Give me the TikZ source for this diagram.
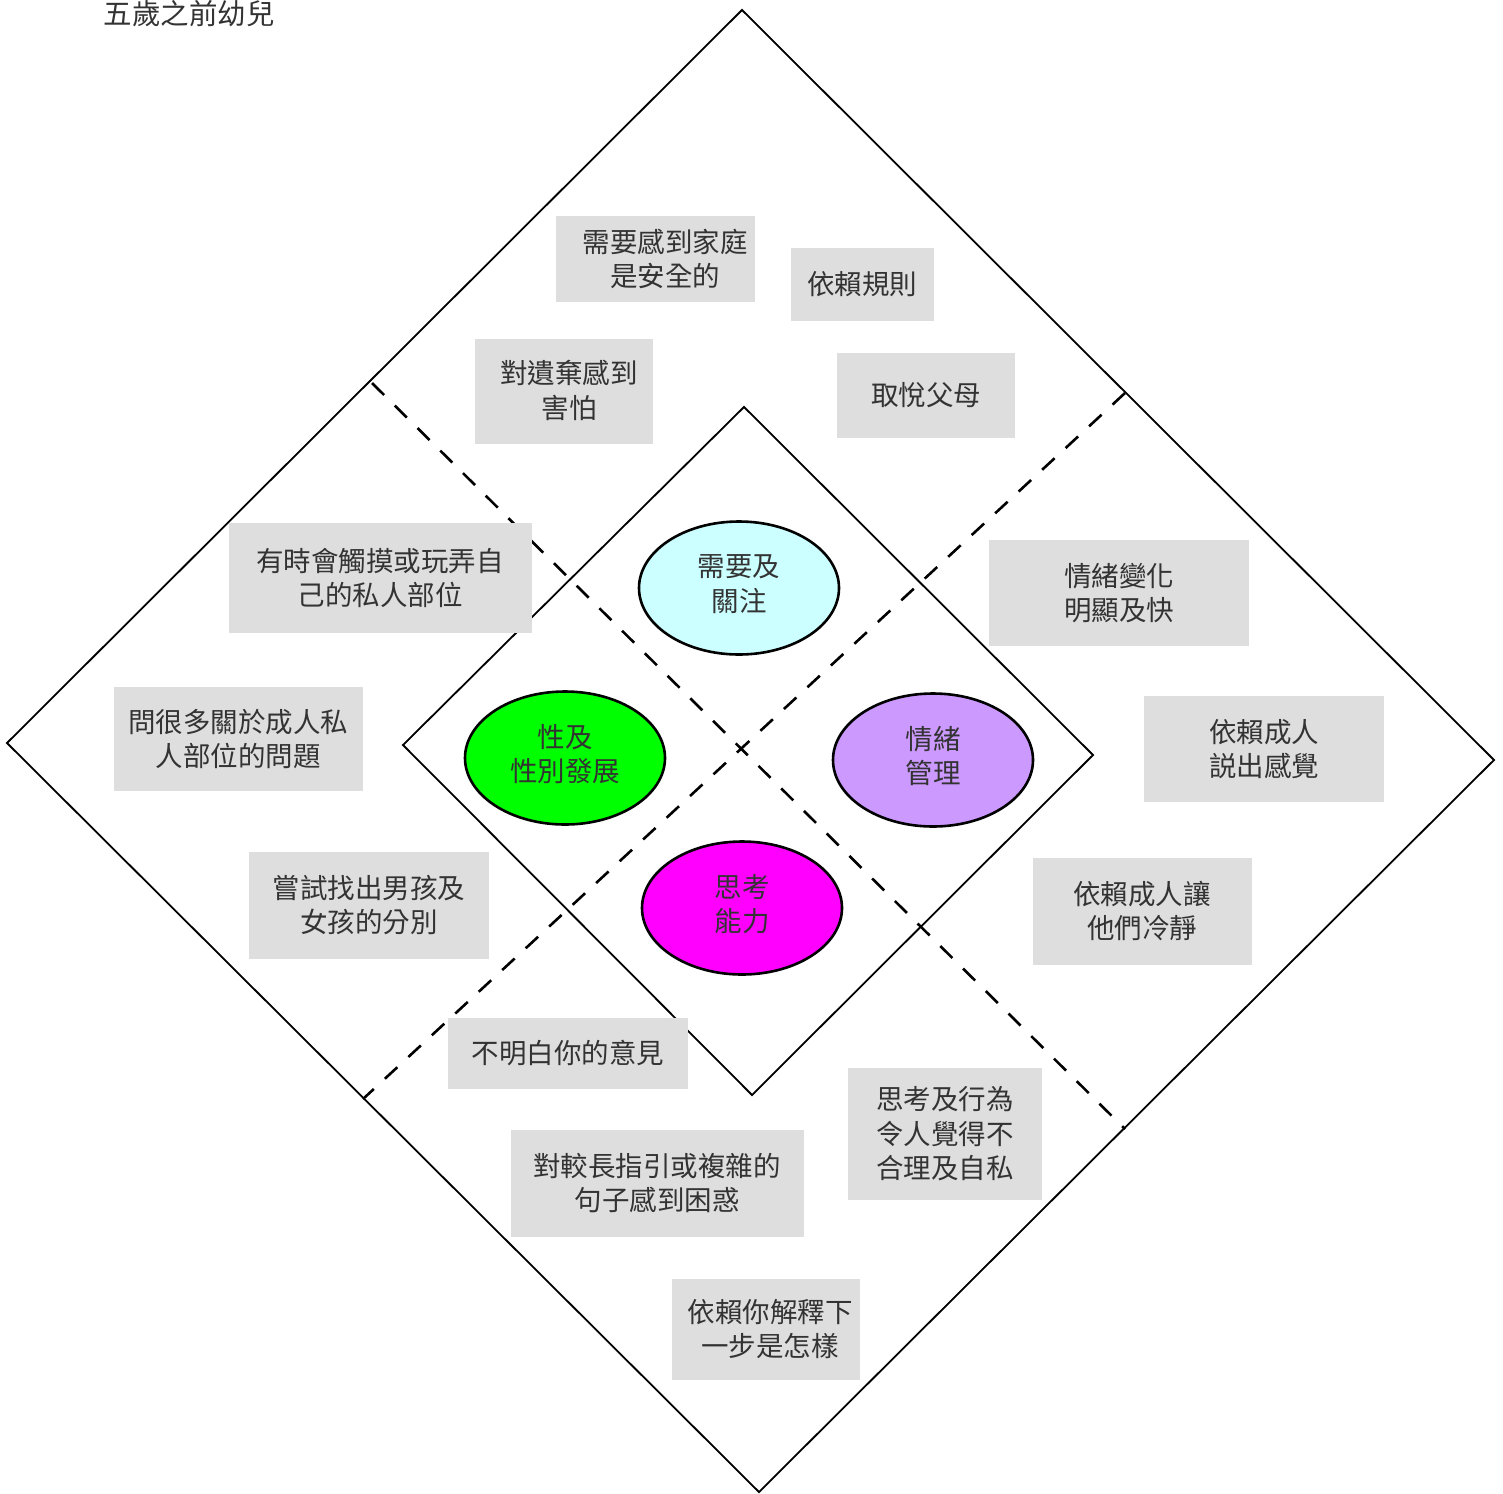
\documentclass[tikz,border=0pt]{standalone}
\usepackage{fontspec}
\setmainfont{Noto Sans CJK TC}
\usetikzlibrary{shapes.geometric}
\definecolor{boxgray}{RGB}{221,222,221}
\definecolor{txtgray}{RGB}{51,51,51}
\definecolor{needcyan}{RGB}{204,255,255}
\definecolor{sexgreen}{RGB}{0,255,0}
\definecolor{emopurple}{RGB}{204,153,255}
\definecolor{thinkmagenta}{RGB}{255,0,255}
\begin{document}
\begin{tikzpicture}[x=1pt,y=-1pt,
  every node/.style={font=\fontsize{27.5}{34.5}\selectfont, text=txtgray},
  gbox/.style={rectangle, fill=boxgray, inner sep=0pt, align=center},
  topic/.style={ellipse, draw=black, line width=2.6pt, minimum width=200, minimum height=133, inner sep=0pt},
  topictext/.style={align=center, yshift=4pt, inner sep=0pt},
  frame/.style={line width=1.8pt, line join=miter},
  divider/.style={line width=2.6pt, dash pattern=on 17pt off 15pt}]
\useasboundingbox (0,0) rectangle (1503,1493);

% title
\node[font=\fontsize{28.5}{34}\selectfont, inner sep=0pt] (title) at (189,14) {五歲之前幼兒};

% outer and inner diamonds
\coordinate (oT) at (742,10);
\coordinate (oR) at (1494,760);
\coordinate (oB) at (759,1492);
\coordinate (oL) at (7,743);
\draw[frame] (oT) -- (oR) -- (oB) -- (oL) -- cycle;

\coordinate (iT) at (744,407);
\coordinate (iR) at (1093,755);
\coordinate (iB) at (752,1095);
\coordinate (iL) at (403,745);
\draw[frame] (iT) -- (iR) -- (iB) -- (iL) -- cycle;

% quadrant dividers
\coordinate (dA1) at (372,383);
\coordinate (dA2) at (1125,1129);
\coordinate (dB1) at (1125,393);
\coordinate (dB2) at (363,1099);
\draw[divider] (dA1) -- (dA2);
\draw[divider] (dB1) -- (dB2);

% top quadrant
\node[gbox, minimum width=199, minimum height=86] (b1) at (655,259) {\hspace*{20pt}需要感到家庭\\\hspace*{20pt}是安全的};
\node[gbox, minimum width=143, minimum height=73] (b2) at (862,284) {依賴規則};
\node[gbox, minimum width=178, minimum height=105] (b3) at (564,391) {\raisebox{3pt}{\hspace*{10pt}對遺棄感到}\\\raisebox{3pt}{\hspace*{10pt}害怕}};
\node[gbox, minimum width=178, minimum height=85] (b4) at (926,395) {取悅父母};

% left quadrant
\node[gbox, minimum width=303, minimum height=110] (b5) at (380,578) {有時會觸摸或玩弄自\\己的私人部位};
\node[gbox, minimum width=249, minimum height=104] (b7) at (238,739) {問很多關於成人私\\人部位的問題};
\node[gbox, minimum width=240, minimum height=107] (b9) at (369,905) {嘗試找出男孩及\\女孩的分別};

% right quadrant
\node[gbox, minimum width=260, minimum height=106] (b6) at (1119,593) {\raisebox{2pt}{情緒變化}\\\raisebox{2pt}{明顯及快}};
\node[gbox, minimum width=240, minimum height=106] (b8) at (1264,749) {依賴成人\\説出感覺};
\node[gbox, minimum width=219, minimum height=107] (b10) at (1142,911) {依賴成人讓\\他們冷靜};

% bottom quadrant
\node[gbox, minimum width=240, minimum height=71] (b11) at (568,1053) {不明白你的意見};
\node[gbox, minimum width=194, minimum height=132] (b12) at (945,1134) {思考及行為\\令人覺得不\\合理及自私};
\node[gbox, minimum width=293, minimum height=107] (b13) at (657,1183) {對較長指引或複雜的\\句子感到困惑};
\node[gbox, minimum width=188, minimum height=101] (b14) at (766,1329) {\hspace*{8pt}依賴你解釋下\\\hspace*{8pt}一步是怎樣};

% central topics
\node[topic, fill=needcyan, label={[topictext]center:需要及\\關注}] (need) at (739,588) {};
\node[topic, fill=sexgreen, label={[topictext]center:性及\\性別發展}] (sex) at (565,758) {};
\node[topic, fill=emopurple, label={[topictext]center:情緒\\管理}] (emo) at (933,760) {};
\node[topic, fill=thinkmagenta, label={[topictext]center:思考\\能力}] (think) at (742,908) {};
\end{tikzpicture}
\end{document}
